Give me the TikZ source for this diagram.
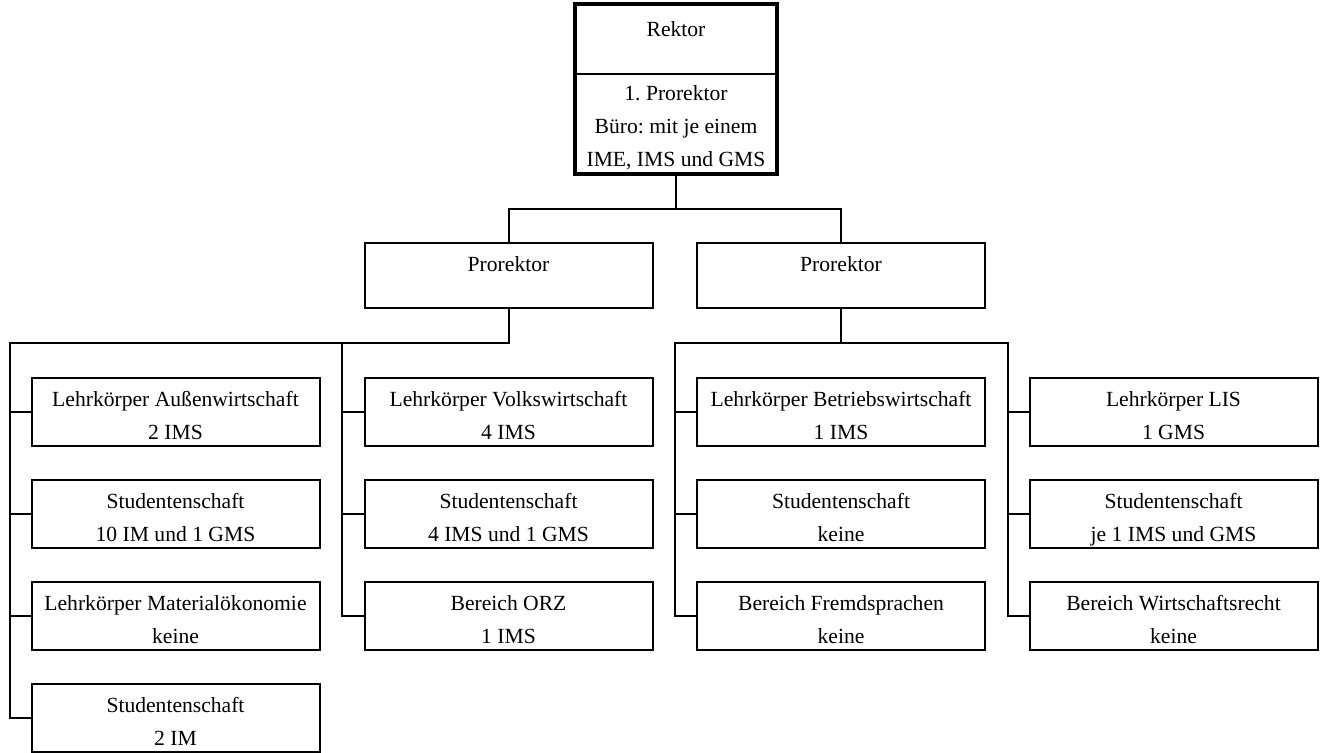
\documentclass[tikz,border=0pt]{standalone}
\usepackage{fontspec}
\setmainfont{Liberation Serif}
\frenchspacing

\tikzset{
  unit/.style={draw, line width=1pt, minimum width=144pt, minimum height=34pt,
    inner sep=0pt, align=center, text height=29pt, text depth=2pt,
    font=\fontsize{10.8}{16.5}\selectfont},
  head/.style={unit, minimum height=32.5pt, text height=7.5pt, text depth=12pt},
  link/.style={line width=1pt},
}

\begin{document}
\begin{tikzpicture}[x=0.5pt, y=-0.5pt]
        \useasboundingbox (0,0) rectangle (1325,753);

        % Rektor and first deputy
        \node[unit, draw=none, minimum width=100pt, text height=7.5pt, text depth=9.5pt] (rektor) at (676,39) {Rektor};
        \node[unit, draw=none, minimum width=100pt, minimum height=50pt, text height=46pt] (erster) at (676,123)
            {1. Prorektor\\Büro: mit je einem\\IME, IMS und GMS};
        \draw[line width=2pt] (rektor.north west) rectangle (erster.south east);
        \draw[link] (rektor.south west) -- (rektor.south east);

        % Prorektoren
        \node[head] (proL) at (508.5,275.5) {Prorektor};
        \node[head] (proR) at (841,275.5) {Prorektor};

        % Units
        \foreach \n/\y/\t in {aw/412/{Lehrkörper Außenwirtschaft\\2 IMS},
                              sa/514/{Studentenschaft\\10 IM und 1 GMS},
                              mo/616/{Lehrkörper Materialökonomie\\keine},
                              sm/718/{Studentenschaft\\2 IM}}
            \node[unit] (\n) at (175.5,\y) {\t};
        \foreach \n/\y/\t in {vw/412/{Lehrkörper Volkswirtschaft\\4 IMS},
                              sv/514/{Studentenschaft\\4 IMS und 1 GMS},
                              orz/616/{Bereich ORZ\\1 IMS}}
            \node[unit] (\n) at (508.5,\y) {\t};
        \foreach \n/\y/\t in {bw/412/{Lehrkörper Betriebswirtschaft\\1 IMS},
                              sb/514/{Studentenschaft\\keine},
                              fs/616/{Bereich Fremdsprachen\\keine}}
            \node[unit] (\n) at (841,\y) {\t};
        \foreach \n/\y/\t in {lis/412/{Lehrkörper LIS\\1 GMS},
                              sl/514/{Studentenschaft\\je 1 IMS und GMS},
                              wr/616/{Bereich Wirtschaftsrecht\\keine}}
            \node[unit] (\n) at (1173.5,\y) {\t};

        % Bus lines
        \coordinate (top) at (676,209);
        \coordinate (ra) at (9.5,343);
        \coordinate (rb) at (342,343);
        \coordinate (rc) at (675,343);
        \coordinate (rd) at (1008,343);

        \draw[link] (erster.south) -- (top);
        \draw[link] (proL.north) |- (proR.north |- top) -- (proR.north);

        \draw[link] (proL.south) |- (ra) |- (sm.west);
        \draw[link] (rb) |- (orz.west);
        \foreach \n in {aw,sa,mo}
            \draw[link] (ra |- \n.west) -- (\n.west);
        \foreach \n in {vw,sv}
            \draw[link] (rb |- \n.west) -- (\n.west);

        \draw[link] (proR.south) -- (proR.south |- rc);
        \draw[link] (orz.west -| rc) |- (rd) |- (wr.west);
        \draw[link] (rc) |- (fs.west);
        \foreach \n in {bw,sb}
            \draw[link] (rc |- \n.west) -- (\n.west);
        \foreach \n in {lis,sl}
            \draw[link] (rd |- \n.west) -- (\n.west);
\end{tikzpicture}
\end{document}
